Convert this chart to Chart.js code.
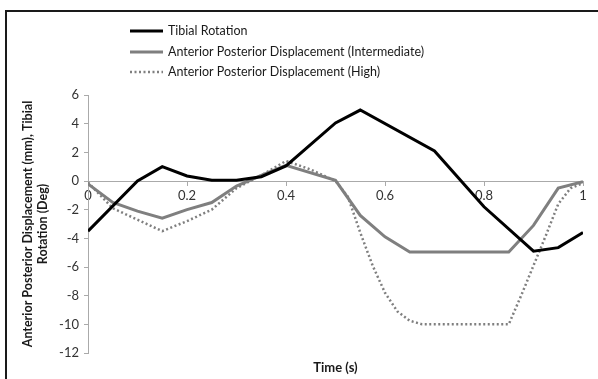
<!DOCTYPE html>
<html>
<head>
<meta charset="utf-8">
<script src="https://cdn.jsdelivr.net/npm/chart.js@4"></script>
<style>
  body { margin: 0; background: #fff; overflow: hidden; }
  #marco { position: absolute; left: 5px; top: 10px; width: 700px; height: 500px; border: 2px solid #1a1a1a; }
  #lienzo { position: absolute; left: 0; top: 0; width: 598px; height: 379px; }
</style>
</head>
<body>
<div id="marco"></div>
<div id="lienzo"><canvas id="grafico"></canvas></div>
<script>
// Datos
const etiquetasSeries = [
  'Tibial Rotation',
  'Anterior Posterior Displacement (Intermediate)',
  'Anterior Posterior Displacement (High)'
];

const tiemposRotacion = [0, 0.1, 0.15, 0.2, 0.25, 0.3, 0.35, 0.4, 0.5, 0.55, 0.7, 0.8, 0.9, 0.95, 1];
const rotacionTibial = [-3.5, 0, 1.0, 0.35, 0.05, 0.05, 0.3, 1.05, 4.05, 4.95, 2.1, -1.8, -4.9, -4.65, -3.6];

const tiemposIntermedio = [0, 0.05, 0.1, 0.15, 0.2, 0.25, 0.3, 0.35, 0.4, 0.5, 0.55, 0.6, 0.65, 0.85, 0.9, 0.95, 1];
const desplIntermedio = [-0.2, -1.5, -2.1, -2.6, -2.0, -1.5, -0.35, 0.4, 1.1, 0.05, -2.4, -3.9, -4.95, -4.95, -3.1, -0.5, -0.05];

const tiemposAlto = [0, 0.05, 0.1, 0.15, 0.2, 0.25, 0.3, 0.35, 0.4, 0.45, 0.5, 0.525, 0.55, 0.575, 0.6, 0.625, 0.65, 0.675, 0.85, 0.875, 0.9, 0.925, 0.95, 0.975, 1];
const desplAlto = [-0.1, -1.9, -2.7, -3.5, -2.8, -2.0, -0.5, 0.4, 1.4, 0.8, 0.0, -1.1, -3.6, -5.9, -7.8, -9.1, -9.75, -10, -10, -8.0, -5.9, -3.8, -1.6, -0.5, -0.15];

const tituloEjeY = ['Anterior Posterior Displacement (mm), Tibial', 'Rotation (Deg)'];
const tituloEjeX = 'Time (s)';

function aPuntos(xs, ys) {
  return xs.map((x, i) => ({ x, y: ys[i] }));
}

// Leyenda apilada a la izquierda, como en el original
const leyendaApilada = {
  id: 'leyendaApilada',
  afterDraw(chart) {
    const ctx = chart.ctx;
    const filas = [31, 52, 72];
    ctx.save();
    chart.data.datasets.forEach((ds, i) => {
      const y = filas[i];
      ctx.beginPath();
      ctx.strokeStyle = ds.borderColor;
      ctx.lineWidth = ds.borderWidth;
      ctx.setLineDash(ds.borderDash || []);
      ctx.moveTo(130, y);
      ctx.lineTo(163, y);
      ctx.stroke();
      ctx.setLineDash([]);
      ctx.fillStyle = '#1a1a1a';
      ctx.font = '12.5px Lato';
      ctx.textBaseline = 'middle';
      ctx.textAlign = 'left';
      ctx.fillText(ds.label, 168, y);
    });
    // título del eje X
    const a = chart.chartArea;
    ctx.font = 'bold 13px Lato';
    ctx.textAlign = 'center';
    ctx.fillText(tituloEjeX, (a.left + a.right) / 2, 368);
    ctx.restore();
  }
};

const ctx = document.getElementById('grafico').getContext('2d');
new Chart(ctx, {
  type: 'scatter',
  data: {
    datasets: [{
      label: etiquetasSeries[0],
      data: aPuntos(tiemposRotacion, rotacionTibial),
      showLine: true,
      borderColor: '#000',
      borderWidth: 3,
      pointRadius: 0
    }, {
      label: etiquetasSeries[1],
      data: aPuntos(tiemposIntermedio, desplIntermedio),
      showLine: true,
      borderColor: '#7f7f7f',
      borderWidth: 3,
      pointRadius: 0
    }, {
      label: etiquetasSeries[2],
      data: aPuntos(tiemposAlto, desplAlto),
      showLine: true,
      borderColor: '#7f7f7f',
      borderWidth: 2.5,
      borderDash: [2, 2.5],
      pointRadius: 0
    }]
  },
  options: {
    responsive: true,
    maintainAspectRatio: false,
    animation: false,
    layout: { padding: { left: 0, top: 95, right: 15, bottom: 26 } },
    plugins: {
      legend: { display: false },
      tooltip: { enabled: false }
    },
    scales: {
      x: {
        type: 'linear',
        min: 0,
        max: 1,
        position: { y: 0 },
        border: { color: '#aaa' },
        grid: { drawOnChartArea: false, drawTicks: true, tickLength: 4, color: '#aaa' },
        ticks: {
          stepSize: 0.2,
          padding: 3,
          color: '#333',
          font: { family: 'Lato', size: 13 },
          callback: v => String(+v.toFixed(1))
        }
      },
      y: {
        min: -12,
        max: 6,
        border: { color: '#aaa' },
        grid: { drawOnChartArea: false, drawTicks: true, tickLength: 4, color: '#aaa' },
        ticks: {
          stepSize: 2,
          padding: 5,
          color: '#333',
          font: { family: 'Lato', size: 13 }
        },
        title: {
          display: true,
          text: tituloEjeY,
          color: '#1a1a1a',
          font: { family: 'Lato', size: 12.5, weight: 'bold' },
          padding: { top: 20, bottom: 0 }
        },
        afterFit(escala) { escala.width = 88; }
      }
    }
  },
  plugins: [leyendaApilada]
});
</script>
</body>
</html>
